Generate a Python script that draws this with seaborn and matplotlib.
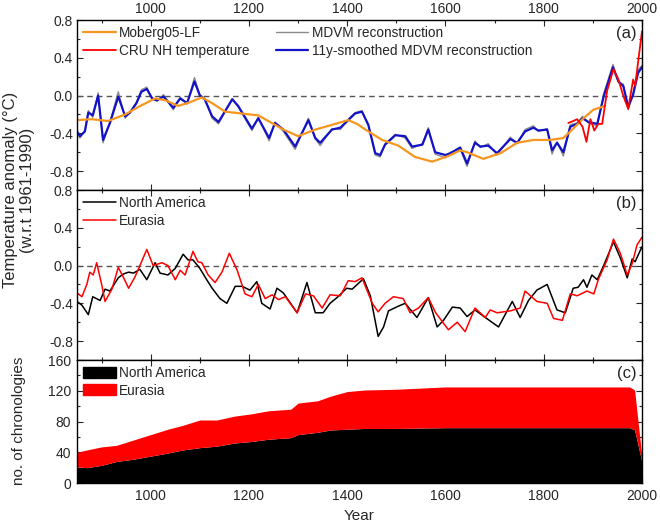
import numpy as np
import pandas as pd
import matplotlib
matplotlib.use("Agg")
import matplotlib.pyplot as plt
from matplotlib.ticker import MultipleLocator
from matplotlib.patches import Patch
import seaborn as sns

# ---- panel (a): NH reconstructions ----
mdvm_years = [850, 856, 866, 873, 882, 893, 903, 917, 934, 948, 958, 971, 981, 992,
              1003, 1013, 1026, 1046, 1060, 1074, 1089, 1100, 1110, 1125, 1138, 1166,
              1178, 1206, 1219, 1241, 1253, 1270, 1294, 1321, 1335, 1345, 1369, 1386,
              1406, 1416, 1430, 1443, 1457, 1467, 1477, 1498, 1518, 1532, 1553, 1565,
              1579, 1600, 1610, 1630, 1644, 1660, 1671, 1687, 1705, 1732, 1746, 1762,
              1779, 1789, 1807, 1817, 1827, 1840, 1854, 1868, 1879, 1891, 1909, 1922,
              1941, 1952, 1962, 1972, 1982, 1992, 2000]
smooth_vals = [-0.38, -0.43, -0.38, -0.18, -0.21, 0.00, -0.47, -0.29, -0.01, -0.22,
               -0.18, -0.08, 0.04, 0.07, -0.03, -0.05, -0.01, -0.13, -0.03, -0.08,
               0.15, 0.00, -0.04, -0.22, -0.28, -0.04, -0.11, -0.35, -0.24, -0.45,
               -0.29, -0.36, -0.54, -0.26, -0.45, -0.50, -0.36, -0.34, -0.24, -0.19,
               -0.17, -0.31, -0.61, -0.63, -0.52, -0.42, -0.43, -0.54, -0.52, -0.36,
               -0.60, -0.63, -0.61, -0.55, -0.72, -0.50, -0.54, -0.53, -0.61, -0.46,
               -0.50, -0.38, -0.34, -0.37, -0.36, -0.58, -0.50, -0.60, -0.33, -0.30,
               -0.24, -0.28, -0.30, -0.01, 0.30, 0.15, 0.10, -0.12, 0.01, 0.24, 0.30]
mdvm_vals = [-0.40, -0.45, -0.37, -0.16, -0.23, 0.03, -0.50, -0.28, 0.04, -0.24,
             -0.17, -0.07, 0.06, 0.09, -0.04, -0.06, 0.01, -0.15, -0.02, -0.09,
             0.19, 0.01, -0.03, -0.24, -0.30, -0.03, -0.12, -0.37, -0.23, -0.48,
             -0.28, -0.38, -0.57, -0.24, -0.46, -0.53, -0.35, -0.36, -0.23, -0.18,
             -0.16, -0.32, -0.63, -0.65, -0.51, -0.41, -0.45, -0.56, -0.51, -0.34,
             -0.62, -0.66, -0.60, -0.57, -0.75, -0.48, -0.55, -0.51, -0.63, -0.44,
             -0.51, -0.36, -0.32, -0.38, -0.35, -0.62, -0.49, -0.64, -0.31, -0.29,
             -0.22, -0.29, -0.32, 0.02, 0.33, 0.14, 0.12, -0.15, 0.03, 0.27, 0.32]

moberg_years = [850, 880, 913, 948, 975, 1009, 1030, 1056, 1080, 1104, 1125, 1151, 1185,
                1219, 1243, 1270, 1300, 1335, 1369, 1402, 1420, 1437, 1471, 1504, 1538,
                1573, 1606, 1630, 1644, 1677, 1712, 1746, 1779, 1813, 1840, 1860, 1881,
                1901, 1925]
moberg_vals = [-0.26, -0.25, -0.27, -0.20, -0.12, -0.03, -0.05, -0.11, -0.07, -0.02,
               -0.08, -0.17, -0.19, -0.21, -0.28, -0.36, -0.43, -0.36, -0.31, -0.26,
               -0.30, -0.36, -0.47, -0.53, -0.65, -0.70, -0.64, -0.58, -0.60, -0.67,
               -0.61, -0.50, -0.47, -0.47, -0.45, -0.35, -0.24, -0.15, -0.11]

cru_years = [1850, 1860, 1868, 1879, 1887, 1895, 1903, 1911, 1919, 1929, 1942, 1952,
             1960, 1966, 1972, 1982, 1986, 1992, 2000]
cru_vals = [-0.29, -0.27, -0.25, -0.33, -0.49, -0.25, -0.37, -0.30, -0.30, 0.05, 0.28,
            0.17, 0.03, -0.06, -0.14, 0.17, 0.10, 0.35, 0.68]

# ---- panel (b): regional reconstructions ----
na_years = [850, 860, 873, 882, 897, 907, 917, 934, 944, 955, 965, 978, 992, 1009, 1019,
            1035, 1050, 1066, 1076, 1086, 1100, 1114, 1125, 1141, 1155, 1172, 1186, 1202,
            1216, 1226, 1243, 1257, 1270, 1298, 1318, 1335, 1351, 1365, 1379, 1399, 1410,
            1433, 1447, 1463, 1474, 1484, 1504, 1518, 1542, 1565, 1583, 1596, 1614, 1630,
            1644, 1660, 1681, 1708, 1736, 1752, 1769, 1786, 1807, 1827, 1844, 1860, 1870,
            1881, 1888, 1898, 1909, 1922, 1942, 1956, 1970, 1980, 1986, 2000]
na_vals = [-0.38, -0.42, -0.52, -0.33, -0.37, -0.25, -0.27, -0.13, -0.09, -0.07, -0.08,
           -0.04, -0.15, 0.03, -0.08, -0.10, -0.03, 0.12, 0.06, 0.06, -0.03, -0.15, -0.24,
           -0.35, -0.40, -0.22, -0.22, -0.26, -0.17, -0.40, -0.46, -0.24, -0.29, -0.50,
           -0.18, -0.50, -0.50, -0.40, -0.34, -0.24, -0.25, -0.14, -0.32, -0.75, -0.65,
           -0.48, -0.43, -0.40, -0.55, -0.34, -0.65, -0.58, -0.44, -0.45, -0.54, -0.47,
           -0.55, -0.65, -0.38, -0.55, -0.37, -0.26, -0.20, -0.47, -0.50, -0.24, -0.23,
           -0.15, -0.23, -0.10, -0.15, 0.00, 0.25, 0.08, -0.13, 0.07, 0.04, 0.20]

eu_years = [850, 860, 870, 876, 883, 890, 901, 907, 921, 934, 944, 955, 968, 978, 992,
            1005, 1023, 1035, 1050, 1060, 1070, 1086, 1096, 1104, 1117, 1131, 1145, 1160,
            1176, 1192, 1206, 1219, 1233, 1247, 1260, 1274, 1298, 1315, 1331, 1349, 1365,
            1386, 1402, 1416, 1430, 1451, 1463, 1477, 1494, 1514, 1528, 1545, 1565, 1580,
            1606, 1624, 1640, 1660, 1681, 1691, 1705, 1732, 1752, 1762, 1786, 1807, 1820,
            1838, 1854, 1868, 1888, 1902, 1911, 1929, 1942, 1956, 1970, 1980, 1990, 2000]
eu_vals = [-0.29, -0.33, -0.20, -0.07, -0.10, 0.03, -0.22, -0.38, -0.25, -0.02, -0.12,
           -0.24, -0.12, 0.00, 0.17, 0.00, 0.03, 0.00, -0.15, -0.05, -0.10, 0.15, 0.04,
           0.03, -0.10, -0.18, -0.07, 0.13, -0.05, -0.30, -0.33, -0.20, -0.35, -0.31,
           -0.36, -0.33, -0.50, -0.30, -0.32, -0.45, -0.31, -0.32, -0.16, -0.17, -0.13,
           -0.40, -0.49, -0.40, -0.33, -0.35, -0.50, -0.45, -0.34, -0.50, -0.68, -0.60,
           -0.70, -0.45, -0.55, -0.47, -0.50, -0.48, -0.45, -0.27, -0.38, -0.40, -0.56,
           -0.58, -0.30, -0.32, -0.27, -0.30, -0.15, 0.06, 0.28, 0.13, -0.10, 0.02, 0.22,
           0.30]

# ---- panel (c): number of chronologies ----
chron_years = [850, 870, 900, 930, 965, 1000, 1035, 1065, 1100, 1135, 1170, 1205, 1240,
               1285, 1300, 1340, 1366, 1400, 1435, 1500, 1600, 1700, 1800, 1900, 1975,
               1985, 2000]
chron_na = [21, 20, 23, 28, 31, 35, 39, 43, 46, 48, 52, 54, 57, 59, 63, 66, 69, 70, 71,
            71, 72, 72, 72, 72, 72, 69, 27]
chron_eu = [19, 23, 24, 21, 25, 28, 31, 32, 36, 34, 35, 36, 37, 37, 41, 41, 44, 49, 50,
            51, 53, 53, 53, 53, 53, 52, 6]

sns.set_style("ticks")
plt.rcParams["font.family"] = ["Liberation Sans", "DejaVu Sans"]
plt.rcParams["font.size"] = 10

fig = plt.figure(figsize=(6.6, 5.24), dpi=100)
left, width = 0.1167, 0.856
ax_a = fig.add_axes([left, 0.6374, width, 0.3244])
ax_b = fig.add_axes([left, 0.3130, width, 0.3244], sharex=ax_a)
ax_c = fig.add_axes([left, 0.0782, width, 0.2347], sharex=ax_a)

orange = "#f7961e"
blue = "#1212c8"
gray = "#8a8a8a"
red = "#ff0000"

leg_kw = dict(frameon=False, fontsize=9.8, handlelength=2.4, borderaxespad=0.05,
              labelspacing=0.25, handletextpad=0.25)

# panel (a)
ax_a.axhline(0, color="#555555", lw=1, ls=(0, (4, 3)))
sns.lineplot(x=mdvm_years, y=mdvm_vals, ax=ax_a, color=gray, lw=1.0, estimator=None)
sns.lineplot(x=mdvm_years, y=smooth_vals, ax=ax_a, color=blue, lw=1.6, estimator=None)
sns.lineplot(x=moberg_years, y=moberg_vals, ax=ax_a, color=orange, lw=1.6, estimator=None)
sns.lineplot(x=cru_years, y=cru_vals, ax=ax_a, color=red, lw=1.3, estimator=None)
lines = ax_a.get_lines()
ax_a.legend([lines[3], lines[4], lines[1], lines[2]],
            ["Moberg05-LF", "CRU NH temperature", "MDVM reconstruction",
             "11y-smoothed MDVM reconstruction"],
            ncol=2, loc="upper left", columnspacing=1.9, **leg_kw)
ax_a.set_ylim(-1.0, 0.8)
ax_a.text(0.99, 0.965, "(a)", transform=ax_a.transAxes, ha="right", va="top", fontsize=12)

# panel (b)
ax_b.axhline(0, color="#555555", lw=1, ls=(0, (4, 3)))
sns.lineplot(x=na_years, y=na_vals, ax=ax_b, color="black", lw=1.1, estimator=None,
             label="North America")
sns.lineplot(x=eu_years, y=eu_vals, ax=ax_b, color=red, lw=1.1, estimator=None,
             label="Eurasia")
ax_b.legend(loc="upper left", **leg_kw)
ax_b.set_ylim(-1.0, 0.8)
ax_b.text(0.99, 0.965, "(b)", transform=ax_b.transAxes, ha="right", va="top", fontsize=12)

# panel (c)
na_arr = np.array(chron_na)
tot_arr = na_arr + np.array(chron_eu)
ax_c.fill_between(chron_years, 0, na_arr, color="black", lw=0)
ax_c.fill_between(chron_years, na_arr, tot_arr, color=red, lw=0)
ax_c.legend([Patch(color="black"), Patch(color=red)], ["North America", "Eurasia"],
            loc="upper left", handleheight=0.85, **leg_kw)
ax_c.set_ylim(0, 160)
ax_c.yaxis.set_major_locator(MultipleLocator(40))
ax_c.yaxis.set_minor_locator(MultipleLocator(20))
ax_c.text(0.99, 0.955, "(c)", transform=ax_c.transAxes, ha="right", va="top", fontsize=12)
ax_c.set_xlabel("Year", fontsize=11, labelpad=4)

for ax in (ax_a, ax_b):
    ax.yaxis.set_major_locator(MultipleLocator(0.4))
    ax.yaxis.set_minor_locator(MultipleLocator(0.2))
    ax.yaxis.set_major_formatter(matplotlib.ticker.FormatStrFormatter("%.1f"))

ax_a.set_xlim(850, 2000)
for ax in (ax_a, ax_b, ax_c):
    ax.xaxis.set_major_locator(MultipleLocator(200))
    ax.xaxis.set_minor_locator(MultipleLocator(100))
    ax.tick_params(which="both", direction="in", top=True, right=True, width=0.8,
                   labelsize=10, pad=3)
    ax.tick_params(which="major", length=4.5)
    ax.tick_params(which="minor", length=2.5)
    ax.set_ylabel("")
    for s in ax.spines.values():
        s.set_linewidth(1.0)
        s.set_color("black")

ax_a.tick_params(labeltop=True, labelbottom=False)
ax_b.tick_params(labeltop=False, labelbottom=False)
ax_c.tick_params(labeltop=False, labelbottom=True, pad=4.5)

fig.text(0.029, 0.637, "Temperature anomaly (°C)\n(w.r.t 1961-1990)", rotation=90,
         ha="center", va="center", fontsize=12, linespacing=1.2)
fig.text(0.029, 0.197, "no. of chronologies", rotation=90, ha="center", va="center",
         fontsize=11)

fig.savefig("out.png", dpi=100)
